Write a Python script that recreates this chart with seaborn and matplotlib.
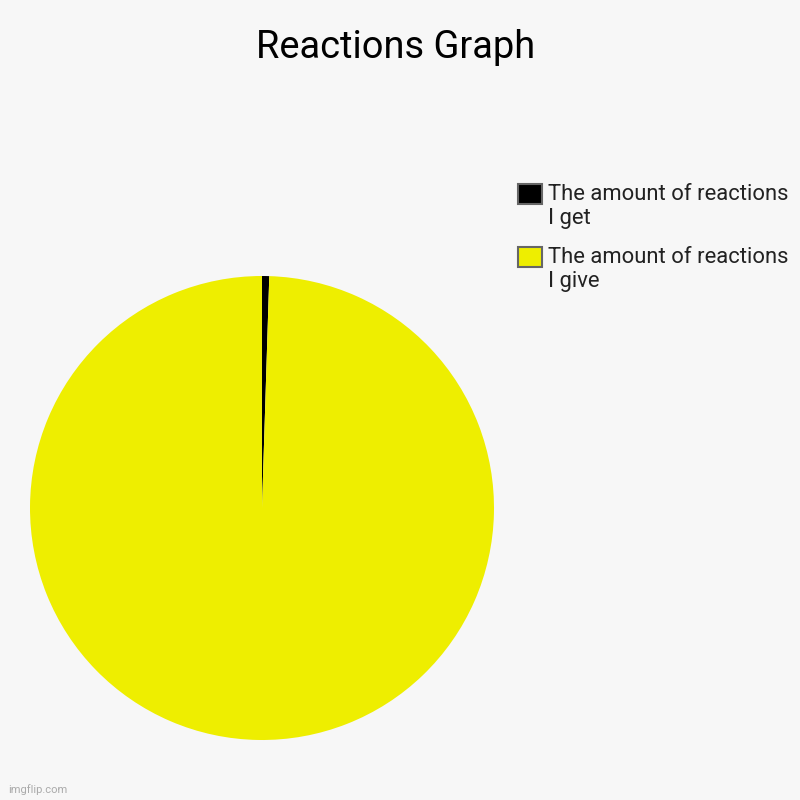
import matplotlib
matplotlib.use("Agg")
import matplotlib.pyplot as plt
import seaborn as sns
from matplotlib.patches import Patch, Rectangle
from matplotlib.legend_handler import HandlerPatch

labels = ["The amount of reactions\nI get", "The amount of reactions\nI give"]
values = [0.5, 99.5]
colors = ["#000000", "#eeee00"]

sns.set_theme(style="white")
plt.rcParams['font.family'] = ['Roboto', 'DejaVu Sans']

fig = plt.figure(figsize=(8, 8), dpi=100)
fig.patch.set_facecolor("#f7f7f7")

ax = fig.add_axes([30/800, 60/800, 464/800, 464/800])
ax.set_facecolor("#f7f7f7")
ax.pie(values, colors=colors, startangle=90, counterclock=False, radius=1,
       wedgeprops=dict(linewidth=0))
ax.set_xlim(-1, 1)
ax.set_ylim(-1, 1)
ax.set_aspect("equal")
ax.axis("off")

fig.text(0.494, 1 - 48/800, "Reactions Graph", ha="center", va="center",
         fontsize=27.4, color="#000000")


def top_patch(legend, orig_handle, xdescent, ydescent, width, height, fontsize):
    return Rectangle((-xdescent, -ydescent + 0.6 * fontsize), width, height)


handles = [Patch(facecolor=c, edgecolor="#666666", linewidth=1.5) for c in colors]
leg = fig.legend(handles, labels, loc="upper left", bbox_to_anchor=(507.5/800, 1 - 173/800),
                 frameon=False, fontsize=15.8, handlelength=1.05, handleheight=1.05,
                 handletextpad=0.3, labelspacing=0.82, borderpad=0,
                 handler_map={Patch: HandlerPatch(patch_func=top_patch)})
for t in leg.get_texts():
    t.set_color("#222222")

fig.text(8/800, 1 - 790/800, "imgflip.com", fontsize=8, color="#aaaaaa",
         ha="left", va="center")

fig.savefig("out.png", dpi=100, facecolor=fig.get_facecolor())
